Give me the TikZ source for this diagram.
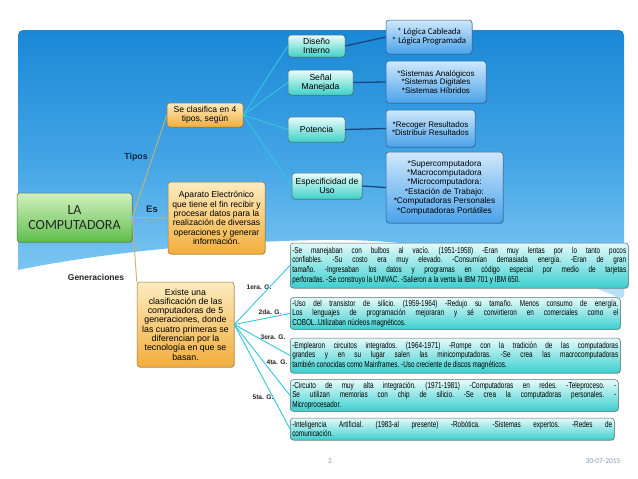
\documentclass[tikz,border=0pt]{standalone}
\usepackage{fontspec}
\setmainfont{Liberation Sans}
\newfontfamily\carl{Carlito}
\newfontfamily\narrowf[FakeStretch=0.74]{Liberation Sans}
\usetikzlibrary{shadows}
\definecolor{panelTop}{HTML}{1A88D6}
\definecolor{panelMid}{HTML}{45A6E6}
\definecolor{panelBot}{HTML}{8CCFF4}
\definecolor{grnTop}{HTML}{D2F0C0}
\definecolor{grnBot}{HTML}{5FBF4C}
\definecolor{grnDraw}{HTML}{4A7A40}
\definecolor{orTop}{HTML}{FDEBC0}
\definecolor{orBot}{HTML}{F2AE3C}
\definecolor{orDraw}{HTML}{A07830}
\definecolor{tlTop}{HTML}{EAFCFA}
\definecolor{tlBot}{HTML}{3FD2C8}
\definecolor{tlDraw}{HTML}{4A6A6A}
\definecolor{blTop}{HTML}{D0E8FC}
\definecolor{blBot}{HTML}{4AA2EA}
\definecolor{blDraw}{HTML}{2A5E98}
\definecolor{gnTop}{HTML}{E4FAFA}
\definecolor{gnBot}{HTML}{3CCFCF}
\definecolor{gnDraw}{HTML}{5A7070}
\definecolor{cyanLine}{HTML}{33C6DE}
\definecolor{navyLine}{HTML}{1B4680}
\definecolor{tanLine}{HTML}{C8B46C}
\definecolor{labelNavy}{HTML}{14253F}
\definecolor{footGray}{HTML}{8C9CB4}
\newcommand\fsz[2]{\fontsize{#1}{#2}\selectfont}
\begin{document}
\begin{tikzpicture}[x=1pt,y=-1pt,
  base/.style={rectangle, rounded corners=3pt, line width=0.5pt, align=center, inner sep=1pt,
    drop shadow={shadow xshift=0.8pt, shadow yshift=-0.9pt, opacity=0.3, fill=black!60}},
  grnbox/.style={base, draw=grnDraw, top color=grnTop, bottom color=grnBot, font=\carl\fsz{14}{15}, text=black!85},
  orbox/.style={base, draw=orDraw, top color=orTop, bottom color=orBot, font=\fsz{8.6}{9.3}},
  tlbox/.style={base, draw=tlDraw, top color=tlTop, bottom color=tlBot, font=\fsz{8.6}{9.4}},
  blbox/.style={base, draw=blDraw, top color=blTop, bottom color=blBot, font=\fsz{8}{8.6}},
  genbox/.style={base, draw=gnDraw, top color=gnTop, bottom color=gnBot, font=\narrowf\fsz{8.6}{9.7},
    align=justify, anchor=west, inner xsep=2pt, inner ysep=2pt,
    execute at begin node={\frenchspacing\tolerance=9999\hbadness=10000\hyphenpenalty=10000}},
  cyanln/.style={draw=cyanLine, line width=0.9pt},
  navyln/.style={draw=navyLine, line width=1.3pt},
  tanln/.style={draw=tanLine, line width=0.9pt},
  lbl/.style={font=\bfseries\fsz{8.8}{10}, text=labelNavy, inner sep=0pt},
  glbl/.style={font=\bfseries\fsz{6.6}{7}, text=black!85, inner sep=0pt},
  foot/.style={font=\carl\fsz{7.5}{8}, text=footGray, inner sep=0pt}
]
\useasboundingbox (0,0) rectangle (638,479);
\fill[white] (0,0) rectangle (638,479);
% background panel
\def\panelpath{(18,270) -- (18,30) -- (624,30) -- (624,300) [sharp corners] .. controls (540,262) and (430,238) .. (320,240) .. controls (200,242) and (90,255) .. (18,270) -- cycle}
\shade[top color=panelTop, bottom color=panelBot, middle color=panelMid, rounded corners=5pt] \panelpath;
\begin{scope}
  \clip[rounded corners=5pt] \panelpath;
  \fill[white, opacity=0.4] (100,300) .. controls (250,240) and (450,235) .. (640,268) -- (640,320) -- (100,320) -- cycle;
\end{scope}

% main nodes
\node[grnbox, minimum width=115pt, minimum height=49pt] (comp) at (74.5,217.5) {LA\\COMPUTADORA};
\node[orbox, minimum width=76pt, minimum height=24pt] (clas) at (205,115) {Se clasifica en 4\\tipos, según};
\node[orbox, minimum width=97pt, minimum height=72pt] (apar) at (216.5,218) {Aparato Electrónico\\que tiene el fin recibir y\\procesar datos para la\\realización de diversas\\operaciones y generar\\información.};
\node[orbox, font=\fsz{8.8}{9.3}, minimum width=97pt, minimum height=85pt] (gen) at (185.5,324.5) {Existe una\\clasificación de las\\computadoras de 5\\generaciones, donde\\las cuatro primeras se\\diferencian por la\\tecnología en que se\\basan.};

\node[tlbox, minimum width=57pt, minimum height=22pt] (dis) at (316.5,46) {Diseño\\Interno};
\node[tlbox, minimum width=65pt, minimum height=25pt] (sen) at (320.5,82.5) {Señal\\Manejada};
\node[tlbox, minimum width=57pt, minimum height=25pt] (pot) at (316.5,129.5) {Potencia};
\node[tlbox, minimum width=70pt, minimum height=26pt] (esp) at (327,186) {Especificidad de\\Uso};

\node[blbox, font=\carl\fsz{8.8}{9.2}, minimum width=86pt, minimum height=34pt] (log) at (429,37) {* Lógica Cableada\\* Lógica Programada};
\node[blbox, minimum width=100pt, minimum height=42pt] (sis) at (436,82) {*Sistemas Analógicos\\*Sistemas Digitales\\*Sistemas Híbridos};
\node[blbox, minimum width=89pt, minimum height=37pt] (rec) at (430.5,128.5) {*Recoger Resultados\\*Distribuir Resultados};
\node[blbox, font=\fsz{8.3}{9.4}, minimum width=117pt, minimum height=71pt] (sup) at (444.5,187.5) {*Supercomputadora\\*Macrocomputadora\\*Microcomputadora:\\*Estación de Trabajo:\\*Computadoras Personales\\*Computadoras Portátiles};

% generation boxes
\node[genbox, text width=334pt, minimum height=45pt] (g1) at (290,265.5) {-Se manejaban con bulbos al vacío. (1951-1958) -Eran muy lentas por lo tanto pocos\linebreak confiables. -Su costo era muy elevado. -Consumían demasiada energía. -Eran de gran\linebreak tamaño. -Ingresaban los datos y programas en código especial por medio de tarjetas\linebreak perforadas. -Se construyo la UNIVAC. -Salieron a la venta la IBM 701 y IBM 650.};
\node[genbox, text width=326pt, minimum height=31pt] (g2) at (290,313.5) {-Uso del transistor de silicio. (1959-1964) -Redujo su tamaño. Menos consumo de energía.\linebreak Los lenguajes de programación mejoraran y sé convirtieron  en comerciales como el\linebreak COBOL..Utilizaban núcleos magnéticos.};
\node[genbox, text width=326pt, minimum height=35pt] (g3) at (290,355.5) {-Emplearon circuitos integrados. (1964-1971) -Rompe con la tradición de las computadoras\linebreak grandes  y en su  lugar salen  las minicomputadoras. -Se crea las macrocomputadoras\linebreak también conocidas como Mainframes.  -Uso creciente de discos magnéticos.};
\node[genbox, text width=324pt, minimum height=31pt] (g4) at (290,395.5) {-Circuito de muy alta integración.  (1971-1981) -Computadoras en redes. -Teleproceso.  -\linebreak Se utilizan memorias con chip de silicio. -Se crea la computadoras personales.  -\linebreak Microprocesador.};
\node[genbox, text width=320pt, minimum height=22pt] (g5) at (290,429) {-Inteligencia Artificial. (1983-al presente) -Robótica. -Sistemas expertos. -Redes de\linebreak comunicación.};

% labels
\node[lbl] (tipos) at (136,157) {Tipos};
\node[lbl, font=\bfseries\fsz{9.5}{10}] (es) at (152,209) {Es};
\node[lbl, font=\bfseries\fsz{8.5}{10}, text=black!85] (gens) at (96,277) {Generaciones};
\node[glbl] (l1) at (259,287) {1era. G.};
\node[glbl] (l2) at (270,312) {2da. G.};
\node[glbl] (l3) at (273,337) {3era. G.};
\node[glbl] (l4) at (277,362) {4ta. G.};
\node[glbl] (l5) at (263,397) {5ta. G.};
\node[foot] (pg) at (330,461) {2};
\node[foot] (date) at (603,461) {30-07-2015};

% connectors
\draw[tanln] (comp.east) -- (clas.west);
\draw[tanln] (comp.east) -- (apar.west);
\draw[tanln] (comp.east) -- (gen.north west);
\draw[cyanln] (clas.east) -- (dis.west);
\draw[cyanln] (clas.east) -- (sen.west);
\draw[cyanln] (clas.east) -- (pot.west);
\draw[cyanln] (clas.east) -- (esp.west);
\draw[navyln] (dis.east) -- (log.west);
\draw[navyln] (sen.east) -- (sis.west);
\draw[navyln] (pot.east) -- (rec.west);
\draw[navyln] (esp.east) -- (sup.west);
\draw[cyanln] (gen.east) -- (g1.west);
\draw[cyanln] (gen.east) -- (g2.west);
\draw[cyanln] (gen.east) -- (g3.west);
\draw[cyanln] (gen.east) -- (g4.west);
\draw[cyanln] (gen.east) -- (g5.west);
\end{tikzpicture}
\end{document}
